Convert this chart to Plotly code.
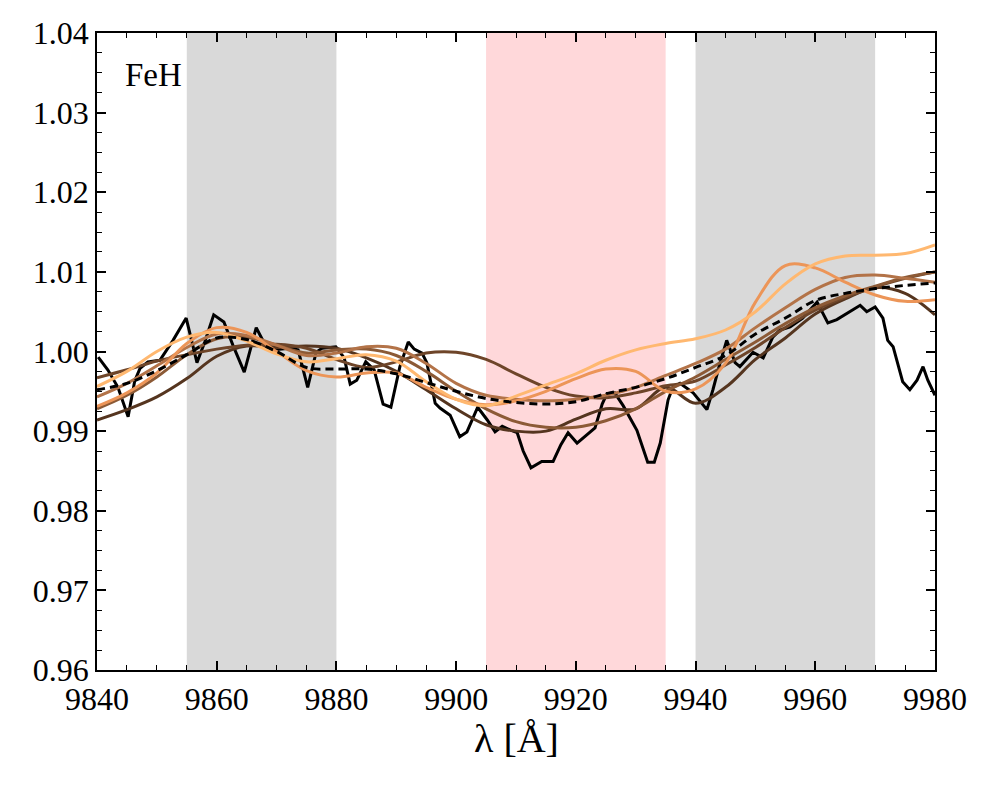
import plotly.graph_objects as go

# observed spectrum (black)
wl_obs = [9840.2, 9841.8, 9843.5, 9845.2, 9846.3, 9847.2, 9848.5, 9850.5, 9852.7, 9854.9,
          9856.7, 9858.0, 9859.5, 9861.2, 9862.7, 9864.6, 9866.6, 9867.9, 9869.2, 9870.9,
          9872.2, 9873.6, 9875.2, 9876.6, 9877.6, 9879.9, 9881.3, 9882.3, 9883.4, 9884.9,
          9886.3, 9887.8, 9889.1, 9890.6, 9892.0, 9893.0, 9894.3, 9895.1, 9896.5, 9897.3,
          9899.0, 9900.6, 9901.8, 9903.6, 9905.2, 9906.5, 9907.7, 9909.2, 9910.2, 9911.2,
          9912.5, 9914.3, 9916.2, 9917.5, 9918.7, 9920.2, 9921.7, 9923.2, 9924.4, 9925.2,
          9926.5, 9927.9, 9930.2, 9932.0, 9933.1, 9934.1, 9935.4, 9936.2, 9937.4, 9939.6,
          9941.9, 9942.9, 9944.1, 9945.2, 9946.6, 9947.4, 9949.6, 9951.3, 9952.9, 9954.1,
          9955.8, 9957.9, 9960.3, 9962.1, 9963.6, 9965.3, 9967.5, 9968.6, 9970.0, 9971.3,
          9972.1, 9973.0, 9974.6, 9975.8, 9977.0, 9978.0, 9978.8, 9980.0]
flux_obs = [0.9993, 0.9977, 0.9955, 0.9918, 0.9963, 0.9979, 0.9987, 0.9989, 1.0014, 1.0042,
            0.9986, 1.0012, 1.0046, 1.0037, 1.0008, 0.9974, 1.0030, 1.0011, 1.0002, 1.0003,
            1.0004, 1.0002, 0.9955, 0.9999, 1.0004, 1.0006, 0.9992, 0.9959, 0.9964, 0.9987,
            0.9977, 0.9934, 0.9930, 0.9981, 1.0012, 1.0003, 0.9998, 0.9986, 0.9935, 0.9929,
            0.9920, 0.9893, 0.9899, 0.9930, 0.9914, 0.9899, 0.9906, 0.9901, 0.9898, 0.9875,
            0.9854, 0.9862, 0.9862, 0.9883, 0.9898, 0.9885, 0.9894, 0.9904, 0.9934, 0.9947,
            0.9948, 0.9932, 0.9901, 0.9861, 0.9861, 0.9885, 0.9939, 0.9955, 0.9960, 0.9948,
            0.9927, 0.9952, 0.9986, 1.0014, 0.9986, 0.9981, 0.9999, 0.9992, 1.0018, 1.0027,
            1.0031, 1.0042, 1.0062, 1.0036, 1.0040, 1.0048, 1.0058, 1.0050, 1.0056, 1.0042,
            1.0014, 1.0006, 0.9962, 0.9952, 0.9964, 0.9981, 0.9964, 0.9945]

# model spectra on a common grid
wl_model = [9840, 9845, 9850, 9855, 9860, 9865, 9870, 9875, 9880, 9885,
            9890, 9895, 9900, 9905, 9910, 9915, 9920, 9925, 9930, 9935,
            9940, 9945, 9950, 9955, 9960, 9965, 9970, 9975, 9980]
model_mean = [0.9952, 0.9960, 0.9976, 0.9996, 1.0017, 1.0015, 1.0000, 0.9980, 0.9978, 0.9978,
              0.9972, 0.9961, 0.9950, 0.9941, 0.9936, 0.9934, 0.9937, 0.9947, 0.9955, 0.9966,
              0.9980, 0.9995, 1.0022, 1.0042, 1.0064, 1.0073, 1.0079, 1.0083, 1.0086]
model_1 = [0.9914, 0.9927, 0.9943, 0.9966, 0.9994, 1.0007, 1.0005, 1.0007, 1.0004, 0.9992,
           0.9975, 0.9952, 0.9928, 0.9908, 0.9900, 0.9900, 0.9915, 0.9928, 0.9928, 0.9955,
           0.9935, 0.9955, 0.9990, 1.0017, 1.0047, 1.0066, 1.0080, 1.0073, 1.0046]
model_2 = [0.9967, 0.9977, 0.9988, 0.9996, 1.0003, 1.0008, 1.0009, 1.0004, 0.9990, 0.9980,
           0.9987, 0.9998, 0.9999, 0.9990, 0.9972, 0.9955, 0.9944, 0.9942, 0.9948, 0.9957,
           0.9963, 0.9983, 1.0005, 1.0030, 1.0052, 1.0068, 1.0081, 1.0092, 1.0100]
model_3 = [0.9928, 0.9945, 0.9968, 0.9996, 1.0016, 1.0018, 1.0008, 0.9998, 1.0002, 1.0003,
           0.9995, 0.9975, 0.9950, 0.9928, 0.9912, 0.9905, 0.9905, 0.9913, 0.9928, 0.9950,
           0.9968, 0.9990, 1.0012, 1.0035, 1.0055, 1.0070, 1.0082, 1.0093, 1.0100]
model_4 = [0.9943, 0.9960, 0.9982, 1.0005, 1.0022, 1.0020, 1.0008, 0.9995, 0.9998, 1.0006,
           1.0004, 0.9985, 0.9960, 0.9945, 0.9940, 0.9938, 0.9940, 0.9945, 0.9955, 0.9970,
           0.9985, 1.0003, 1.0030, 1.0055, 1.0078, 1.0093, 1.0096, 1.0092, 1.0087]
model_5 = [0.9931, 0.9948, 0.9973, 1.0010, 1.0030, 1.0024, 1.0000, 0.9976, 0.9968, 0.9973,
           0.9973, 0.9955, 0.9940, 0.9933, 0.9938, 0.9950, 0.9966, 0.9978, 0.9975, 0.9950,
           0.9953, 0.9985, 1.0062, 1.0108, 1.0105, 1.0087, 1.0071, 1.0063, 1.0065]
model_6 = [0.9956, 0.9975, 1.0000, 1.0018, 1.0024, 1.0013, 0.9997, 0.9987, 0.9991, 0.9996,
           0.9988, 0.9962, 0.9940, 0.9932, 0.9944, 0.9958, 0.9972, 0.9989, 1.0002, 1.0010,
           1.0016, 1.0027, 1.0050, 1.0085, 1.0110, 1.0120, 1.0121, 1.0123, 1.0134]

models = [model_1, model_2, model_3, model_4, model_5, model_6]
model_colors = ["#55351f", "#6e4529", "#8c5a36", "#b37348", "#ec9558", "#ffb870"]

# shaded windows: (start, end, colour)
bands = [(9855, 9880, "#d9d9d9"), (9905, 9935, "#ffd8da"), (9940, 9970, "#d9d9d9")]

SERIF = "Liberation Serif, Times New Roman, Times, serif"

fig = go.Figure()

for x0, x1, col in bands:
    fig.add_vrect(x0=x0, x1=x1, fillcolor=col, opacity=1, line_width=0, layer="below")

fig.add_trace(go.Scatter(x=wl_obs, y=flux_obs, mode="lines",
                         line=dict(color="black", width=3), showlegend=False))

for vals, col in zip(models, model_colors):
    fig.add_trace(go.Scatter(x=wl_model, y=vals, mode="lines",
                             line=dict(color=col, width=3, shape="spline", smoothing=1.0),
                             showlegend=False))

fig.add_trace(go.Scatter(x=wl_model, y=model_mean, mode="lines",
                         line=dict(color="black", width=3, dash="8px,5px", shape="spline"),
                         showlegend=False))

fig.add_annotation(x=0.031, y=0.934, xref="paper", yref="paper", text="FeH",
                   showarrow=False, xanchor="left", yanchor="middle",
                   font=dict(family=SERIF, size=33, color="black"))

# axis title as annotation so it can sit close to the tick labels
fig.add_annotation(x=0.5, y=0, xref="paper", yref="paper", text="λ [Å]",
                   showarrow=False, xanchor="center", yanchor="top", yshift=-44,
                   font=dict(family=SERIF, size=40, color="black"))

axis_common = dict(showline=True, linecolor="black", linewidth=1.5, mirror="ticks",
                   ticks="inside", ticklen=9, tickwidth=1.5, tickcolor="black",
                   showgrid=False, zeroline=False, automargin=False,
                   tickfont=dict(family=SERIF, size=32, color="black"))

fig.update_xaxes(range=[9840, 9980], dtick=20, tick0=9840, tickformat="d",
                 minor=dict(ticks="inside", dtick=5, ticklen=5, tickwidth=1, tickcolor="black"),
                 **axis_common)
fig.update_yaxes(range=[0.96, 1.04], dtick=0.01, tick0=0.96, tickformat=".2f",
                 minor=dict(ticks="inside", dtick=0.0025, ticklen=5, tickwidth=1, tickcolor="black"),
                 **axis_common)

fig.update_layout(width=1000, height=800, plot_bgcolor="white", paper_bgcolor="white",
                  margin=dict(l=89, r=73, t=25, b=138))

fig.write_html("out.html")
